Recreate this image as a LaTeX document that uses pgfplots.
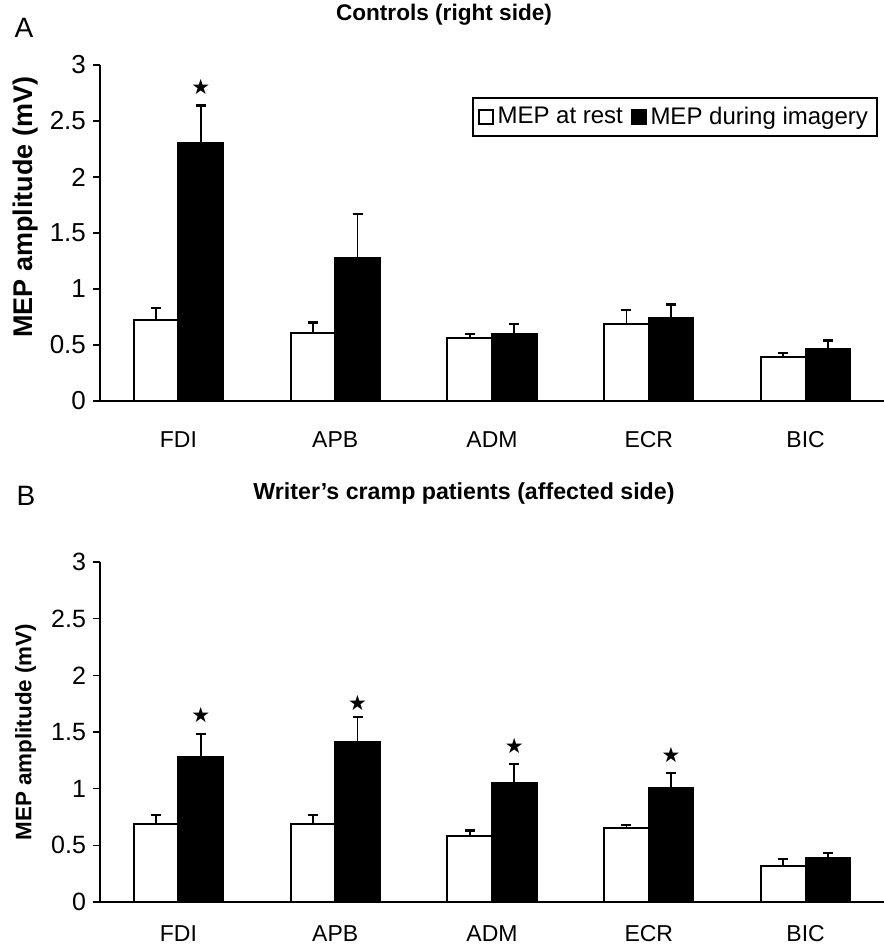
\documentclass[border=0pt]{standalone}
\usepackage{fontspec}
\setmainfont{Liberation Sans}
\newfontfamily\symfont{DejaVu Sans}
\usepackage{pgfplots}
\pgfplotsset{compat=1.18}

% shared look of both panels
\pgfplotsset{
  mepaxis/.style={
    scale only axis, width=392pt,
    xmin=-0.5, xmax=4.5, ymin=0, ymax=3,
    axis lines=left,
    axis line style={-, line width=1pt},
    xtick={0,1,2,3,4},
    xticklabels={FDI,APB,ADM,ECR,BIC},
    xtick style={draw=none},
    ytick={0,0.5,1,1.5,2,2.5,3},
    yticklabels={0,0.5,1,1.5,2,2.5,3},
    ytick style={line width=0.8pt, black},
    tick align=outside, major tick length=3.5pt,
    ylabel={MEP amplitude (mV)},
    clip=false,
  },
  rest/.style={ybar, bar width=0.285, bar shift=0pt,
    fill=white, draw=black, line width=1pt,
    error bars/y dir=plus, error bars/y explicit,
    error bars/error bar style={line width=0.9pt, black},
    error bars/error mark options={rotate=90, line width=1.2pt, mark size=2.5pt, black}},
  imag/.style={rest, fill=black},
  star/.style={only marks, mark=text,
    text mark={\symfont\fontsize{10.5}{11}\selectfont ★}, forget plot},
}

\begin{document}
\begin{tikzpicture}
\path[use as bounding box] (0,0) rectangle (442pt,-475pt);

% panel A
\node[font=\fontsize{14}{16}\selectfont] at (12pt,-14pt) {A};
\node[font=\bfseries\fontsize{11.3}{13}\selectfont] at (222pt,-7.5pt) {Controls (right side)};
\begin{axis}[mepaxis, height=168pt,
  at={(50pt,-200.5pt)}, anchor=south west,
  yticklabel style={font=\fontsize{13}{15}\selectfont},
  xticklabel style={font=\fontsize{11.5}{13}\selectfont, anchor=base, yshift=-19.5pt},
  ylabel style={font=\bfseries\fontsize{13.5}{15}\selectfont,
    at={(axis description cs:-0.095,0.576)}, anchor=center},
  legend style={at={(rel axis cs:0.992,0.905)}, anchor=north east,
    legend columns=2, draw=black, line width=0.8pt,
    font=\fontsize{12}{14}\selectfont, inner sep=2.5pt,
    /tikz/every even column/.append style={column sep=2pt}},
  legend image code/.code={\draw[#1, line width=0.8pt] (0pt,-3.5pt) rectangle (7pt,3.5pt);},
]
\addplot[rest] coordinates {
  (-0.1425,0.72) +- (0,0.11)
  (0.8575,0.61) +- (0,0.09)
  (1.8575,0.565) +- (0,0.035)
  (2.8575,0.69) +- (0,0.12)
  (3.8575,0.395) +- (0,0.035)
};
\addplot[imag] coordinates {
  (0.1425,2.30) +- (0,0.34)
  (1.1425,1.28) +- (0,0.39)
  (2.1425,0.60) +- (0,0.09)
  (3.1425,0.74) +- (0,0.12)
  (4.1425,0.46) +- (0,0.08)
};
\addplot[star] coordinates {(0.1425,2.80)};
\legend{MEP at rest, MEP during imagery}
\end{axis}

% panel B
\node[font=\fontsize{14}{16}\selectfont] at (13pt,-248pt) {B};
\node[font=\bfseries\fontsize{11.6}{13}\selectfont] at (232pt,-246.5pt) {Writer's cramp patients (affected side)};
\begin{axis}[mepaxis, height=170pt,
  at={(50pt,-451pt)}, anchor=south west,
  yticklabel style={font=\fontsize{12.5}{15}\selectfont},
  xticklabel style={font=\fontsize{11.5}{13}\selectfont, anchor=base, yshift=-16pt},
  ylabel style={font=\bfseries\fontsize{11.2}{13}\selectfont,
    at={(axis description cs:-0.095,0.5)}, anchor=center},
]
\addplot[rest] coordinates {
  (-0.1425,0.69) +- (0,0.08)
  (0.8575,0.69) +- (0,0.08)
  (1.8575,0.58) +- (0,0.05)
  (2.8575,0.65) +- (0,0.03)
  (3.8575,0.32) +- (0,0.06)
};
\addplot[imag] coordinates {
  (0.1425,1.28) +- (0,0.20)
  (1.1425,1.41) +- (0,0.22)
  (2.1425,1.05) +- (0,0.17)
  (3.1425,1.01) +- (0,0.13)
  (4.1425,0.39) +- (0,0.04)
};
\addplot[star] coordinates {(0.1425,1.65) (1.1425,1.76) (2.1425,1.375) (3.1425,1.30)};
\end{axis}
\end{tikzpicture}
\end{document}
